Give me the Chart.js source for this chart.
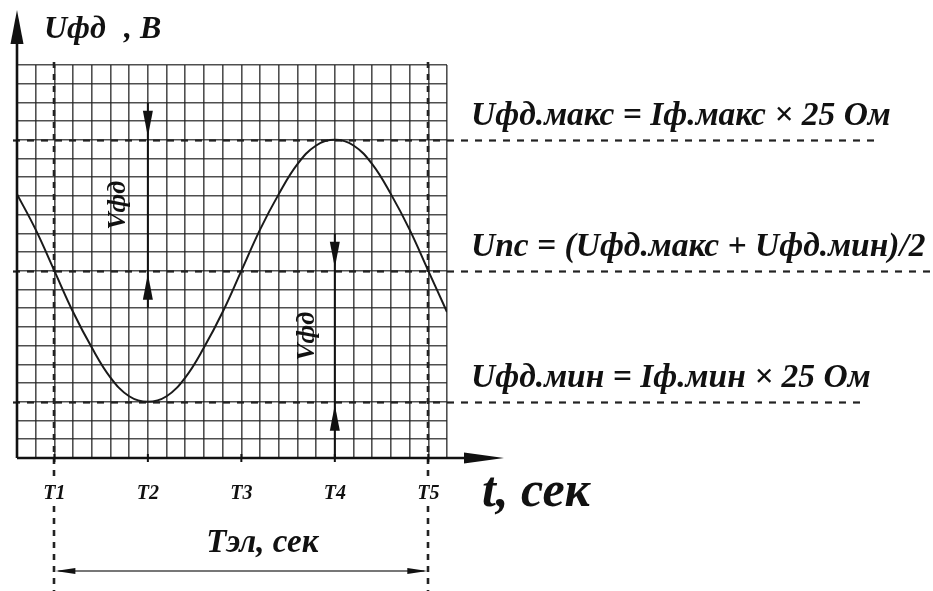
<!DOCTYPE html>
<html>
<head>
<meta charset="utf-8">
<script src="https://cdn.jsdelivr.net/npm/chart.js@4.4.0/dist/chart.umd.min.js"></script>
<style>
  html, body { margin: 0; padding: 0; background: #fff; }
  #wrap { width: 933px; height: 591px; }
</style>
</head>
<body>
<div id="wrap"><canvas id="chartUfd"></canvas></div>
<script>
// time and voltage are both counted in grid cells
const timeSteps = [0, 1, 2, 3, 4, 5, 6, 7, 8, 9, 10, 11, 12, 13, 14, 15, 16, 17, 18, 19, 20, 21, 22, 23]
const ufdValues = [14.1, 12.2, 10, 7.8, 5.9, 4.3, 3.3, 3, 3.3, 4.3, 5.9, 7.8, 10, 12.2, 14.1, 15.7, 16.7, 17, 16.7, 15.7, 14.1, 12.2, 10, 7.8]

const periodTicks = [2, 7, 12, 17, 22]
const periodLabels = ['T1', 'T2', 'T3', 'T4', 'T5']

// Uфд.макс, Uпс, Uфд.мин
const levelValues = [17, 10, 3]
const levelLabels = [
    'Uфд.макс = Iф.макс × 25 Ом',
    'Uпс = (Uфд.макс + Uфд.мин)/2',
    'Uфд.мин = Iф.мин × 25 Ом'
]

const yTitle = ['Uфд', ', В']
const xTitle = 't, сек'
const periodTitle = 'Тэл, сек'
const swingLabel = 'Vфд'

const serif = '"Liberation Serif", "DejaVu Serif", serif'
const ink = '#111'

function arrowHead(ctx, tipX, tipY, dx, dy, len, half) {
    const bx = tipX - dx * len
    const by = tipY - dy * len
    ctx.beginPath()
    ctx.moveTo(tipX, tipY)
    ctx.lineTo(bx - dy * half, by + dx * half)
    ctx.lineTo(bx + dy * half, by - dx * half)
    ctx.closePath()
    ctx.fill()
}

// vertical dimension with arrows pointing in from outside the two levels
function swingArrow(ctx, px, yHigh, yLow, extTop, extBottom) {
    ctx.lineWidth = 2
    ctx.beginPath()
    ctx.moveTo(px, yHigh - extTop)
    ctx.lineTo(px, yLow + extBottom)
    ctx.stroke()
    arrowHead(ctx, px, yHigh - 3, 0, 1, 26, 5)
    arrowHead(ctx, px, yLow + 3, 0, -1, 26, 5)
}

const sketch = {
    id: 'sketch',
    beforeDatasetsDraw(chart) {
        const { ctx, chartArea: a, scales: { x, y } } = chart
        ctx.save()
        ctx.strokeStyle = '#222'

        // level lines run out to the formulas on the right
        const levelEnds = [880, 933, 864]
        ctx.lineWidth = 2.2
        ctx.setLineDash([7, 7])
        levelValues.forEach((v, i) => {
            const py = Math.round(y.getPixelForValue(v)) + 0.5
            ctx.beginPath()
            ctx.moveTo(a.left - 4, py)
            ctx.lineTo(levelEnds[i], py)
            ctx.stroke()
        })

        // T1 and T5 bound one period, down to the bottom of the sheet
        ctx.lineWidth = 2.6
        ctx.setLineDash([6, 6])
        const bounds = [periodTicks[0], periodTicks[periodTicks.length - 1]]
        bounds.forEach(t => {
            const px = Math.round(x.getPixelForValue(t))
            ctx.beginPath()
            ctx.moveTo(px, a.top - 3)
            ctx.lineTo(px, chart.height)
            ctx.stroke()
        })
        ctx.restore()
    },
    afterDatasetsDraw(chart) {
        const { ctx, chartArea: a, scales: { x, y } } = chart
        ctx.save()
        ctx.fillStyle = ink
        ctx.strokeStyle = ink

        // axes with arrows
        ctx.lineWidth = 2.6
        ctx.beginPath()
        ctx.moveTo(a.left, a.bottom)
        ctx.lineTo(a.left, 30)
        ctx.moveTo(a.left, a.bottom)
        ctx.lineTo(470, a.bottom)
        ctx.stroke()
        arrowHead(ctx, a.left, 10, 0, -1, 34, 6.5)
        arrowHead(ctx, 504, a.bottom, 1, 0, 40, 5.5)

        // period ticks and their labels
        ctx.lineWidth = 2
        ctx.font = 'bold italic 20px ' + serif
        ctx.textAlign = 'center'
        ctx.textBaseline = 'alphabetic'
        periodTicks.forEach((t, i) => {
            const px = x.getPixelForValue(t)
            ctx.beginPath()
            ctx.moveTo(px, a.bottom - 4)
            ctx.lineTo(px, a.bottom + 4)
            ctx.stroke()
            const w = ctx.measureText(periodLabels[i]).width
            ctx.fillStyle = '#fff'
            ctx.fillRect(px - w / 2 - 3, 480, w + 6, 24)
            ctx.fillStyle = ink
            ctx.fillText(periodLabels[i], px, 499)
        })

        // axis titles
        ctx.textAlign = 'left'
        ctx.font = 'bold italic 32px ' + serif
        ctx.fillText(yTitle[0], 44, 38)
        ctx.fillText(yTitle[1], 124, 38)
        ctx.font = 'bold italic 50px ' + serif
        ctx.fillText(xTitle, 482, 506)

        // level formulas
        ctx.font = 'bold italic 33.5px ' + serif
        levelLabels.forEach((txt, i) => {
            const py = y.getPixelForValue(levelValues[i])
            ctx.fillText(txt, 471, py - 15)
        })

        // swing arrows between the levels
        const yMax = y.getPixelForValue(levelValues[0])
        const yMid = y.getPixelForValue(levelValues[1])
        const yMin = y.getPixelForValue(levelValues[2])
        const xT2 = x.getPixelForValue(periodTicks[1])
        const xT4 = x.getPixelForValue(periodTicks[3])
        swingArrow(ctx, xT2, yMax, yMid, 37, 37)
        swingArrow(ctx, xT4, yMid, yMin, 37, a.bottom - yMin)

        ctx.font = 'bold italic 26px ' + serif
        ctx.textAlign = 'center'
        ctx.textBaseline = 'middle'
        const labelAt = (px, py) => {
            ctx.save()
            ctx.translate(px, py)
            ctx.rotate(-Math.PI / 2)
            ctx.fillText(swingLabel, 0, 0)
            ctx.restore()
        }
        labelAt(xT2 - 30, (yMax + yMid) / 2)
        labelAt(xT4 - 28, (yMid + yMin) / 2)

        // period dimension below the axis
        const xT1 = x.getPixelForValue(periodTicks[0])
        const xT5 = x.getPixelForValue(periodTicks[periodTicks.length - 1])
        ctx.strokeStyle = '#777'
        ctx.lineWidth = 2.2
        ctx.beginPath()
        ctx.moveTo(xT1 + 4, 571)
        ctx.lineTo(xT5 - 4, 571)
        ctx.stroke()
        ctx.fillStyle = ink
        arrowHead(ctx, xT1 + 1, 571, -1, 0, 20, 3)
        arrowHead(ctx, xT5 - 1, 571, 1, 0, 20, 3)

        ctx.textBaseline = 'alphabetic'
        ctx.font = 'bold italic 33px ' + serif
        ctx.fillText(periodTitle, (xT1 + xT5) / 2 + 21, 552)
        ctx.restore()
    }
}

const gridStyle = {
    color: 'rgba(35, 35, 35, 0.8)',
    lineWidth: 1.6,
    drawTicks: false
}

new Chart(document.getElementById('chartUfd'), {
    type: 'line',
    data: {
        datasets: [{
            label: 'Uфд',
            data: timeSteps.map((t, i) => ({ x: t, y: ufdValues[i] })),
            borderColor: '#1a1a1a',
            borderWidth: 2,
            pointRadius: 0,
            tension: 0.4,
            fill: false
        }]
    },
    options: {
        responsive: true,
        maintainAspectRatio: false,
        animation: false,
        events: [],
        layout: {
            padding: { left: 17, right: 486, top: 65, bottom: 133 }
        },
        plugins: {
            legend: { display: false },
            tooltip: { enabled: false }
        },
        scales: {
            x: {
                type: 'linear',
                min: 0,
                max: 23,
                ticks: { display: false, stepSize: 1 },
                grid: gridStyle,
                border: { display: false }
            },
            y: {
                min: 0,
                max: 21,
                ticks: { display: false, stepSize: 1 },
                grid: gridStyle,
                border: { display: false }
            }
        }
    },
    plugins: [sketch]
})
</script>
</body>
</html>
